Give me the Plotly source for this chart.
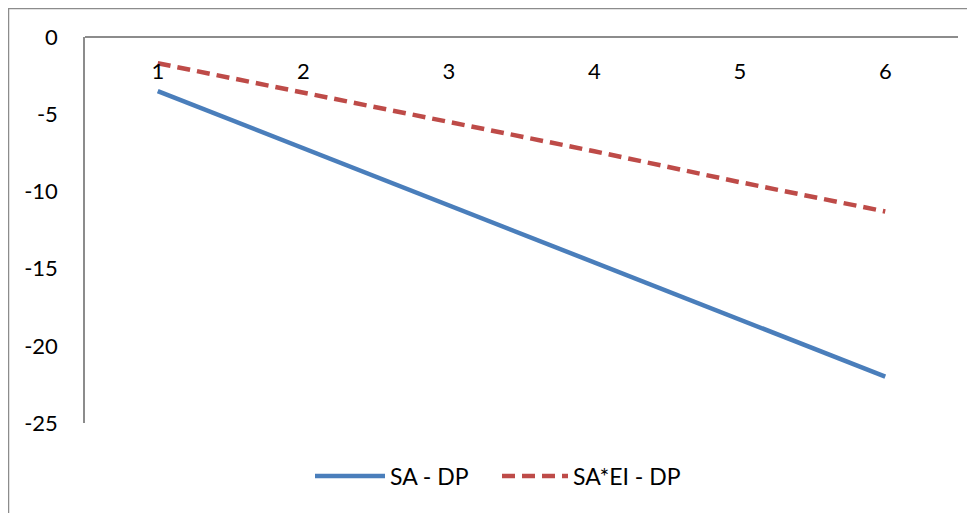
import plotly.graph_objects as go

categories = [1, 2, 3, 4, 5, 6]
sa_dp = [-3.5, -7.2, -10.9, -14.6, -18.3, -22.0]
sa_ei_dp = [-1.7, -3.6, -5.5, -7.4, -9.4, -11.3]
y_ticks = [0, -5, -10, -15, -20, -25]

W, H = 975, 513
OFF = 8  # page body margin
L, R, T, B = 85 - OFF, 958 - OFF, 37 - OFF, 423 - OFF
pw, ph = R - L, B - T

fig = go.Figure()
fig.add_trace(go.Scatter(x=categories, y=sa_dp, mode="lines", name="SA - DP",
                         line=dict(color="#4A7EBB", width=4.5), legend="legend"))
fig.add_trace(go.Scatter(x=categories, y=sa_ei_dp, mode="lines", name="SA*EI - DP",
                         line=dict(color="#BE4B48", width=4.5, dash="13px,7px"),
                         legend="legend2"))

font = "Lato, 'Open Sans', sans-serif"
leg_y = (B - (476 - OFF)) / ph
fig.update_layout(
    width=W, height=H,
    margin=dict(l=L, r=W - R, t=T, b=H - B, pad=0),
    paper_bgcolor="white", plot_bgcolor="white",
    font=dict(family=font, size=22, color="black"),
    showlegend=True,
    legend=dict(orientation="h", x=(310 - OFF - L) / pw, xanchor="left",
                y=leg_y, yanchor="middle", font=dict(size=23), itemwidth=70,
                bgcolor="rgba(0,0,0,0)"),
    legend2=dict(orientation="h", x=(497 - OFF - L) / pw, xanchor="left",
                 y=leg_y, yanchor="middle", font=dict(size=23), itemwidth=66,
                 bgcolor="rgba(0,0,0,0)"),
    xaxis=dict(range=[0.5, 6.5], tickvals=categories, ticktext=[str(c) for c in categories],
               side="bottom", anchor="free", position=1, ticks="", ticklabelstandoff=15,
               tickfont=dict(size=22),
               showline=True, linecolor="#8c8c8c", linewidth=1.5, showgrid=False,
               zeroline=False),
    yaxis=dict(range=[-25, 0], tickvals=y_ticks, ticktext=[str(v) for v in y_ticks],
               ticks="", ticklabelstandoff=21, tickfont=dict(size=22),
               showline=True, linecolor="#8c8c8c",
               linewidth=1.5, showgrid=False, zeroline=False),
    shapes=[dict(type="rect", xref="paper", yref="paper",
                 x0=(0.5 - L) / pw, x1=(W + 20 - L) / pw,
                 y0=(B - H - 20) / ph, y1=1 + (T - 0.5) / ph,
                 line=dict(color="#8c8c8c", width=1.5), fillcolor="rgba(0,0,0,0)",
                 layer="below")],
)

fig.write_html("out.html")
